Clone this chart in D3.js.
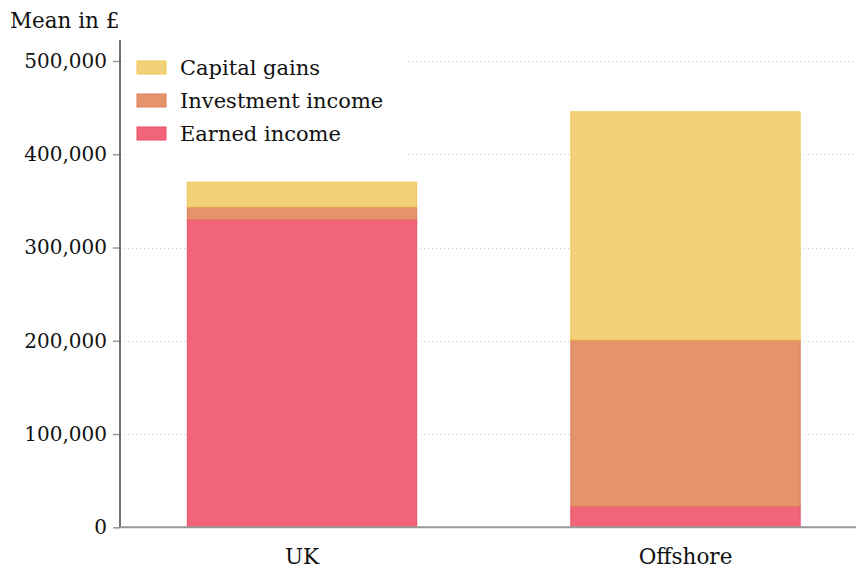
<!DOCTYPE html>
<html>
<head>
<meta charset="utf-8">
<script src="https://cdn.jsdelivr.net/npm/d3@7"></script>
<style>
  html, body { margin: 0; padding: 0; background: #fff; }
  svg { display: block; }
  text { font-family: "DejaVu Serif", serif; fill: #111; }
</style>
</head>
<body>
<svg id="chart" width="856" height="570"></svg>
<script>
const categories = ["UK", "Offshore"];
const seriesNames = ["Earned income", "Investment income", "Capital gains"];
const earnedIncome = [330000, 22500];
const investmentIncome = [13500, 178500];
const capitalGains = [26500, 244500];
const yTicks = [0, 100000, 200000, 300000, 400000, 500000];
const yLabel = "Mean in £";

const fills = ["#f2647a", "#e5936a", "#f1d27a"];
const strokes = ["#ee4d68", "#e07e58", "#f0c650"];

const svg = d3.select("#chart");
const W = 856, H = 570;
const axisX = 120, axisBottom = 527.3, axisTop = 40;

const y = d3.scaleLinear().domain([0, 522500]).range([axisBottom, axisTop]);
const x = d3.scaleBand().domain(categories).range([118.3, 869.2]).paddingInner(0.402).paddingOuter(0.18);

const table = categories.map((c, i) => ({
  cat: c,
  "Earned income": earnedIncome[i],
  "Investment income": investmentIncome[i],
  "Capital gains": capitalGains[i]
}));
const stack = d3.stack().keys(seriesNames)(table);

// grid
svg.append("g").selectAll("line").data(yTicks.filter(d => d > 0)).join("line")
  .attr("x1", axisX).attr("x2", W)
  .attr("y1", d => Math.round(y(d)) + 0.5).attr("y2", d => Math.round(y(d)) + 0.5)
  .attr("stroke", "#c8c8c8").attr("stroke-width", 1)
  .attr("stroke-dasharray", "1,3");

// bars
const layers = svg.append("g").selectAll("g").data(stack).join("g")
  .attr("fill", (d, i) => fills[i]).attr("stroke", (d, i) => strokes[i]);
layers.selectAll("rect").data(d => d).join("rect")
  .attr("x", d => x(d.data.cat))
  .attr("width", x.bandwidth())
  .attr("y", d => y(d[1]))
  .attr("height", d => y(d[0]) - y(d[1]))
  .attr("stroke-width", 1);

// y axis
const yAxis = svg.append("g").attr("transform", `translate(${axisX},0)`)
  .call(d3.axisLeft(y).tickValues(yTicks).tickSize(7).tickPadding(6)
    .tickFormat(d3.format(",")));
yAxis.select(".domain").remove();
yAxis.selectAll(".tick line").attr("stroke", "#999").attr("stroke-width", 1.5);
yAxis.selectAll(".tick text").attr("font-size", "20px").attr("font-family", "DejaVu Serif, serif").attr("fill", "#111");
svg.append("line").attr("x1", axisX).attr("x2", axisX).attr("y1", axisTop).attr("y2", axisBottom)
  .attr("stroke", "#444").attr("stroke-width", 1.5);

// x axis
svg.append("line").attr("x1", axisX).attr("x2", W).attr("y1", axisBottom).attr("y2", axisBottom)
  .attr("stroke", "#999").attr("stroke-width", 2);
svg.append("g").selectAll("text").data(categories).join("text")
  .attr("x", d => x(d) + x.bandwidth() / 2)
  .attr("y", 564)
  .attr("text-anchor", "middle")
  .attr("font-size", "21.5px")
  .text(d => d);

// y label
svg.append("text").attr("x", 10).attr("y", 28).attr("font-size", "21.5px").text(yLabel);

// legend
const legend = svg.append("g");
legend.append("rect").attr("x", 128).attr("y", 46).attr("width", 280).attr("height", 114).attr("fill", "#fff");
const legItems = seriesNames.map((n, i) => ({ name: n, i })).reverse();
const lg = legend.selectAll("g.item").data(legItems).join("g").attr("class", "item")
  .attr("transform", (d, k) => `translate(137,${61 + k * 33})`);
lg.append("rect").attr("width", 29).attr("height", 13)
  .attr("fill", d => fills[d.i]).attr("stroke", d => strokes[d.i]).attr("stroke-width", 1);
lg.append("text").attr("x", 43).attr("y", 14).attr("font-size", "21px").text(d => d.name);
</script>
</body>
</html>
